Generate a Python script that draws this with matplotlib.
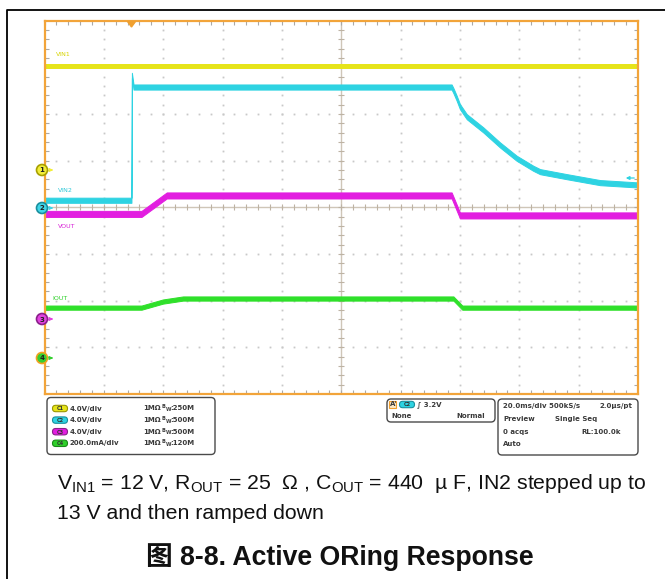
import numpy as np
import matplotlib.pyplot as plt
from matplotlib.patches import FancyBboxPatch, Circle, Polygon, Rectangle

plt.rcParams['mathtext.fontset'] = 'custom'
plt.rcParams['mathtext.rm'] = 'Liberation Sans'
plt.rcParams['mathtext.it'] = 'Liberation Sans:italic'
plt.rcParams['mathtext.bf'] = 'Liberation Sans:bold'

# scope settings
ms_per_div = 20.0
ch_scale = {'C1': 4.0, 'C2': 4.0, 'C3': 4.0, 'C4': 200.0}      # V/div (mA/div for C4)
ch_ground = {'C1': 0.80, 'C2': 0.0, 'C3': -2.39, 'C4': -3.23}  # ground level, div

# captured waveforms: time in ms from left of screen, value in V (mA for IOUT)
vin1_t = [0.0, 200.0]
vin1_v = [8.9, 8.9]

vin2_t = [0.0, 29.3, 29.45, 30.0, 137.2, 137.8, 138.9, 140.0, 142.3, 147.9,
          153.5, 159.1, 164.7, 167.0, 176.0, 187.2, 200.0]
vin2_v = [0.6, 0.6, 11.3, 10.3, 10.3, 9.99, 9.34, 8.62, 7.76, 6.62,
          5.34, 4.20, 3.34, 3.05, 2.62, 2.11, 1.91]

vout_t = [0.0, 32.7, 41.2, 137.2, 140.0, 200.0]
vout_v = [8.99, 8.99, 10.57, 10.57, 8.86, 8.86]

iout_t = [0.0, 32.7, 39.9, 46.7, 137.8, 140.8, 200.0]
iout_v = [216, 216, 242, 255, 255, 216, 216]

W, H = 665, 579
fig = plt.figure(figsize=(W / 100, H / 100), dpi=100)
fig.patch.set_facecolor('white')

# scope screen
x0, x1, y0, y1 = 44.5, 638.0, 20.5, 394.0
ax = fig.add_axes([x0 / W, 1 - y1 / H, (x1 - x0) / W, (y1 - y0) / H])
ax.set_xlim(0, 10 * ms_per_div)
ax.set_ylim(-4, 4)
ax.set_xticks([])
ax.set_yticks([])
for s in ax.spines.values():
    s.set_color('#f2a43a')
    s.set_linewidth(1.6)
    s.set_zorder(6)

minor_x = np.arange(0, 200.01, ms_per_div / 5)
minor_y = np.arange(-4, 4.01, 0.2)
dot = dict(ls='none', marker='s', ms=1.3, mew=0, color='#c8c8c8', zorder=1)
for k in range(1, 10):
    if k != 5:
        ax.plot(np.full_like(minor_y, k * ms_per_div), minor_y, **dot)
for k in range(-3, 4):
    if k != 0:
        ax.plot(minor_x, np.full_like(minor_x, k), **dot)

# centre cross with minor ticks
ax.axvline(100, color='#cfc6b8', lw=1, zorder=1)
ax.axhline(0, color='#cfc6b8', lw=1, zorder=1)
ax.plot(minor_x, np.zeros_like(minor_x), ls='none', marker='|', ms=5, mew=0.8, color='#bdb3a4', zorder=1)
ax.plot(np.full_like(minor_y, 100), minor_y, ls='none', marker='_', ms=5, mew=0.8, color='#bdb3a4', zorder=1)

# edge ticks
edge = dict(ls='none', mew=0.8, color='#a9a9a9', zorder=2)
ax.plot(minor_x, np.full_like(minor_x, 4), marker='|', ms=6, **edge)
ax.plot(minor_x, np.full_like(minor_x, -4), marker='|', ms=6, **edge)
ax.plot(np.full_like(minor_y, 0), minor_y, marker='_', ms=6, **edge)
ax.plot(np.full_like(minor_y, 200), minor_y, marker='_', ms=6, **edge)


def draw_trace(t, v, ch, color, band):
    y = ch_ground[ch] + np.asarray(v, float) / ch_scale[ch]
    ax.fill_between(t, y - band / 2, y + band / 2, color=color, lw=0.7, zorder=3)


draw_trace(vin1_t, vin1_v, 'C1', '#e6e41a', 0.10)
draw_trace(vout_t, vout_v, 'C3', '#e21ee0', 0.13)
draw_trace(iout_t, iout_v, 'C4', '#2fe02a', 0.09)
draw_trace(vin2_t, vin2_v, 'C2', '#2ed3e2', 0.11)

# overlay in pixel coordinates for markers, readouts and caption
ov = fig.add_axes([0, 0, 1, 1])
ov.set_xlim(0, W)
ov.set_ylim(H, 0)
ov.axis('off')
ov.patch.set_alpha(0)

ov.plot([7, 7, W], [H, 10, 10], color='black', lw=1.3)

# trigger position
ov.add_patch(Polygon([(127.5, 21.5), (135.5, 21.5), (131.5, 27)], color='#f0a030'))

# channel ground markers
markers = [('1', 170, '#f2ee3a', '#a8a000'),
           ('2', 208, '#3fd6e8', '#1a8f9e'),
           ('3', 319, '#e243e0', '#8a208a'),
           ('4', 358, '#34d030', '#f0a020')]
for num, yy, fc, ec in markers:
    ov.add_patch(Circle((42, yy), 5.5, fc=fc, ec=ec, lw=1.2, zorder=7))
    ov.text(42, yy + 0.5, num, fontsize=5, fontweight='bold', ha='center', va='center', color='#222', zorder=8)
    ov.annotate('', xy=(56, yy), xytext=(48, yy),
                arrowprops=dict(arrowstyle='-|>', color=fc, lw=0.9, mutation_scale=5), zorder=7)
ov.annotate('', xy=(623, 178), xytext=(637, 178),
            arrowprops=dict(arrowstyle='-|>', color='#2ed3e2', lw=0.9, mutation_scale=5))

# trace labels
lab = dict(fontsize=4.5, ha='left', va='center')
ov.text(56, 54, 'VIN1', color='#d6d400', **lab)
ov.text(58, 190, 'VIN2', color='#2ec8d8', **lab)
ov.text(58, 227, 'VOUT', color='#d81ed6', **lab)
ov.text(52, 298, 'IOUT', color='#2bd026', **lab)


# readout panels
def panel(x, y, w, h):
    ov.add_patch(FancyBboxPatch((x, y), w, h, boxstyle='round,pad=0,rounding_size=4',
                                fc='white', ec='#4a4a4a', lw=1.0))


def pill(xc, yc, label, fc, ec):
    ov.add_patch(FancyBboxPatch((xc - 7.5, yc - 3.2), 15, 6.4, boxstyle='round,pad=0,rounding_size=3.2',
                                fc=fc, ec=ec, lw=0.8))
    ov.text(xc, yc + 0.3, label, fontsize=3.6, fontweight='bold', ha='center', va='center', color='#333')


rd = dict(fontsize=5, fontweight='bold', color='#3a3a3a', va='center')
panel(47, 397.5, 168, 57)
rows = [('C1', '4.0V/div', '250M', '#e6e41a', '#9a9600'),
        ('C2', '4.0V/div', '500M', '#2ed3e2', '#1a8f9e'),
        ('C3', '4.0V/div', '500M', '#e21ee0', '#8a208a'),
        ('C4', '200.0mA/div', '120M', '#2fd02a', '#1a8a18')]
for i, (ch, per_div, bw, fc, ec) in enumerate(rows):
    yy = 408.5 + i * 11.6
    pill(60, yy, ch, fc, ec)
    ov.text(70, yy, per_div, **rd)
    ov.text(143, yy, '1M\u03a9', **rd)
    ov.text(162, yy - 1.5, 'B', fontsize=3.6, fontweight='bold', color='#3a3a3a', va='center')
    ov.text(165.5, yy + 1.2, 'W', fontsize=3.6, fontweight='bold', color='#3a3a3a', va='center')
    ov.text(170, yy, ':' + bw, **rd)

panel(387, 399, 108, 23)
ov.add_patch(Rectangle((389, 400.5), 7, 7, fc='#fbe7c4', ec='#f0a030', lw=0.8))
ov.text(390, 404.5, "A'", **rd)
pill(407, 404.5, 'C2', '#2ed3e2', '#1a8f9e')
ov.text(417, 404.5, '\u222b 3.2V', **rd)
ov.text(391, 416, 'None', **rd)
ov.text(485, 416, 'Normal', ha='right', **rd)

panel(498, 399, 140, 56)
ov.text(503, 406, '20.0ms/div 500kS/s', **rd)
ov.text(633, 406, '2.0\u00b5s/pt', ha='right', **rd)
ov.text(503, 419, 'Preview', **rd)
ov.text(555, 419, 'Single Seq', **rd)
ov.text(503, 432, '0 acqs', **rd)
ov.text(621, 432, 'RL:100.0k', ha='right', **rd)
ov.text(503, 444, 'Auto', **rd)

# caption
cap = dict(fontsize=15.3, family=['Liberation Sans', 'DejaVu Sans'], color='#111', va='baseline')
ov.text(57, 489, 'V$_{\\rm IN1}$ = 12 V, R$_{\\rm OUT}$ = 25  \u03a9 , C$_{\\rm OUT}$ = 440  \u00b5 F, IN2 stepped up to', **cap)
ov.text(57, 519, '13 V and then ramped down', **cap)
ov.text(340, 565, '图 8-8. Active ORing Response', fontsize=19.2, fontweight='bold',
        family=['Liberation Sans', 'Noto Sans CJK SC'], color='#111', ha='center', va='baseline')

fig.savefig('out.png', dpi=100)
